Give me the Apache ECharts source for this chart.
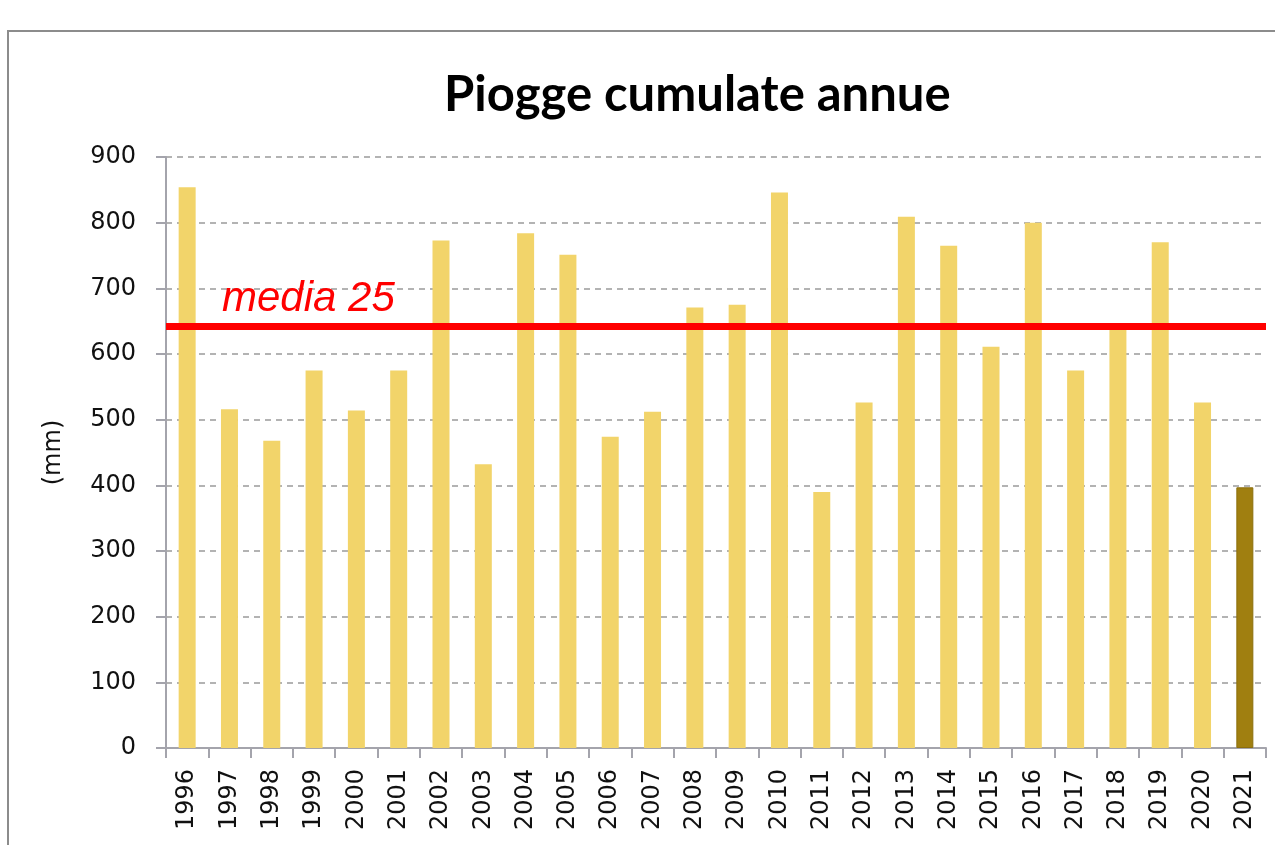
<!DOCTYPE html>
<html>
<head>
<meta charset="utf-8">
<script src="https://cdn.jsdelivr.net/npm/echarts@6/dist/echarts.min.js"></script>
<style>
    html, body { margin: 0; padding: 0; background: #fff; overflow: hidden; }
    #frame {
        position: absolute; left: 7px; top: 30px; width: 1400px; height: 900px;
        border-left: 2px solid #8c8c8c; border-top: 2px solid #8c8c8c;
    }
    #chart { position: absolute; left: 0; top: 0; width: 1275px; height: 845px; }
</style>
</head>
<body>
<div id="frame"></div>
<div id="chart"></div>
<script>
// anni
const years = ['1996', '1997', '1998', '1999', '2000', '2001', '2002', '2003', '2004', '2005', '2006', '2007', '2008',
    '2009', '2010', '2011', '2012', '2013', '2014', '2015', '2016', '2017', '2018', '2019', '2020', '2021']
// pioggia cumulata (mm)
const rain = [854, 516, 468, 575, 514, 575, 773, 432, 784, 751, 474, 512, 671,
    675, 846, 390, 526, 809, 765, 611, 800, 575, 638, 770, 526, 397]
const mediaValue = 642
const mediaLabel = 'media 25'
const yTicks = [0, 100, 200, 300, 400, 500, 600, 700, 800, 900]

const lastYear = '2021'
const barData = rain.map((v, i) => {
    if (years[i] === lastYear) {
        return { value: v, itemStyle: { color: '#a07f10', borderColor: '#8c6e0c', borderWidth: 1 } }
    }
    return v
})

const myChart = echarts.init(document.getElementById('chart'))
const option = {
    animation: false,
    title: {
        text: 'Piogge cumulate annue',
        left: 439,
        top: 66,
        textStyle: {
            fontFamily: 'Lato',
            fontWeight: 'bold',
            fontSize: 49,
            color: '#000'
        }
    },
    grid: {
        left: 166,
        right: 9,
        top: 157,
        bottom: 97
    },
    xAxis: {
        type: 'category',
        data: years,
        boundaryGap: true,
        axisLine: { lineStyle: { color: '#a4a4ac', width: 2 } },
        axisTick: { show: true, length: 10, alignWithLabel: false, lineStyle: { color: '#a4a4ac', width: 2 } },
        axisLabel: {
            rotate: 90,
            interval: 0,
            margin: 21,
            fontFamily: 'DejaVu Sans',
            fontSize: 24,
            color: '#111'
        }
    },
    yAxis: {
        type: 'value',
        min: yTicks[0],
        max: yTicks[yTicks.length - 1],
        interval: 100,
        name: '(mm)',
        nameLocation: 'middle',
        nameRotate: 90,
        nameGap: 100,
        nameTextStyle: { fontFamily: 'DejaVu Sans', fontSize: 24, color: '#111' },
        axisLine: { show: true, lineStyle: { color: '#a4a4ac', width: 2 } },
        axisTick: { show: true, length: 10, lineStyle: { color: '#a4a4ac', width: 2 } },
        axisLabel: {
            margin: 30,
            fontFamily: 'DejaVu Sans',
            fontSize: 24,
            color: '#111'
        },
        splitLine: {
            show: true,
            lineStyle: { color: '#9a9a9a', type: [6, 5], width: 1.5 }
        }
    },
    series: [
        {
            name: 'pioggia',
            type: 'bar',
            data: barData,
            barWidth: 17,
            itemStyle: { color: '#f2d46a' },
            markLine: {
                symbol: 'none',
                silent: true,
                lineStyle: { color: '#ff0000', width: 7, type: 'solid' },
                label: {
                    show: true,
                    position: 'insideStartTop',
                    formatter: mediaLabel,
                    distance: [56, 6],
                    fontFamily: 'Liberation Sans',
                    fontStyle: 'italic',
                    fontSize: 42,
                    color: '#ff0000'
                },
                data: [{ yAxis: mediaValue }]
            }
        }
    ]
}
myChart.setOption(option)
</script>
</body>
</html>
